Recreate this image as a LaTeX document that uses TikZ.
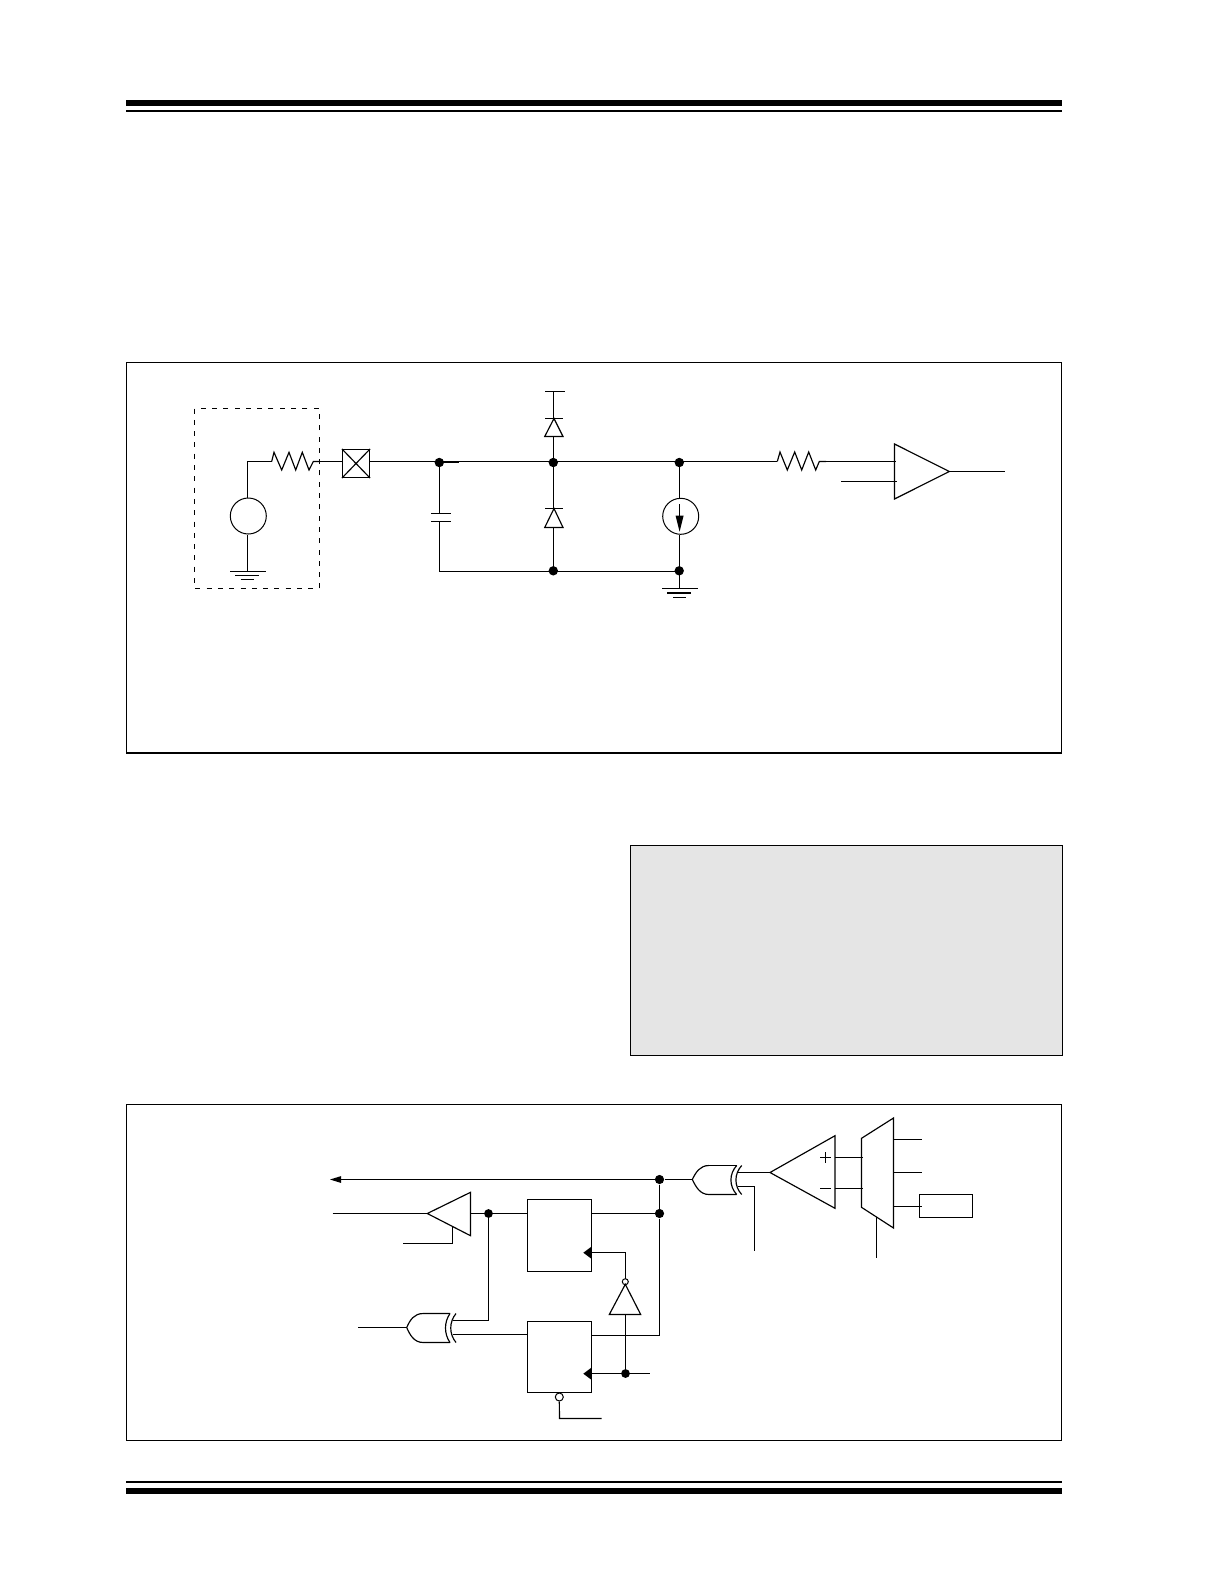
\documentclass[tikz,border=0pt]{standalone}
\usetikzlibrary{calc}
\tikzset{
  x=0.5pt,y=-0.5pt,
  wire/.style={line width=0.58pt,line join=miter},
  frameb/.style={line width=0.65pt},
  jun/.style={circle,fill=black,draw=none,inner sep=0pt,minimum size=4.7pt},
  bub/.style={circle,fill=white,draw=black,line width=0.5pt,inner sep=0pt},
  thin/.style={line width=0.5pt},
  wedge/.style={fill=black,draw=none},
  bar/.style={fill=black,draw=none},
}
\begin{document}
\begin{tikzpicture}
\useasboundingbox (0,0) rectangle (1225,1585);
% page bands
\fill[bar] (126,100) rectangle (1062,106);
\fill[bar] (126,110) rectangle (1062,112);
\fill[bar] (126,1481) rectangle (1062,1483);
\fill[bar] (126,1488) rectangle (1062,1494);
% frames
\draw[frameb] (126.5,362.5) rectangle (1061.5,752.5);
\fill[bar] (126,752) rectangle (1062,754);
\draw[frameb] (126.5,1104.5) rectangle (1061.5,1440.5);
\draw[frameb,fill=black!10] (630.5,845.5) rectangle (1062.5,1055.5);

%% ---------- upper circuit ----------
\draw[wire,dash pattern=on 2.5pt off 3.15pt] (194.5,408.5) rectangle (319.5,588.5);
\coordinate (w0) at (247.5,461.5);
\coordinate (r1a) at (271.7,461.5);
\coordinate (r1b) at (319.5,461.5);
\coordinate (padl) at (342.5,461.5);
\coordinate (padr) at (369.5,461.5);
\node[jun] (j1) at (439.3,462.5) {};
\node[jun] (j2) at (553.3,462.5) {};
\node[jun] (j3) at (679.3,462.5) {};
\node[jun] (j4) at (553.3,570.8) {};
\node[jun] (j5) at (679.2,570.8) {};
\coordinate (w1) at (439.5,461.5);
\coordinate (w2) at (553.5,461.5);
\coordinate (w3) at (679.5,461.5);
\coordinate (w4) at (553.5,571.5);
\coordinate (w5) at (679.5,571.5);
\coordinate (w6) at (439.5,571.5);
\coordinate (r2a) at (777.3,461.5);
\coordinate (r2b) at (826,461.5);
% source
\node[circle,draw,thin,inner sep=0pt,minimum size=18pt] (src) at (248.3,516) {};
\coordinate (g1) at (247.5,571.5);
\draw[wire] (r1a) -- (w0) -- (w0 |- src.north);
\draw[wire] (w0 |- src.south) -- (g1);
\draw[wire] (230.3,571.5) -- (266,571.5) (235,575.5) -- (259,575.5) (240.7,579.5) -- (254,579.5);
% resistor 1
\draw[wire] (r1a) -- (274,452.3) -- (281.7,470) -- (289,452.3) -- (295.7,470) -- (302.3,452.3) -- (309,470) -- (313.3,461.5) -- (r1b);
\draw[wire] (r1b) -- (padl);
% pad
\node[draw,wire,inner sep=0pt,minimum width=13.5pt,minimum height=14pt] (pad) at (356,463.5) {};
\draw[wire] (pad.north west) -- (pad.south east) (pad.south west) -- (pad.north east);
\draw[wire] (padr) -- (w1) -- (w2) -- (w3) -- (r2a);
\draw[line width=0.9pt] (w1) ++(0,0.5) -- (459,462);
% cap
\coordinate (c1) at (439.5,513.5);
\coordinate (c2) at (439.5,521.5);
\draw[wire] (w1) -- (c1) (431,513.5) -- (451,513.5);
\draw[wire] (431,521.5) -- (451,521.5) (c2) -- (w6) -- (w4) -- (w5);
% upper diode
\coordinate (v1) at (553.5,391.5);
\draw[wire] (545.3,391.5) -- (565,391.5);
\draw[wire] (v1) -- (553.5,418.5);
\draw[wire] (545,418.5) -- (563,418.5);
\draw[wire] (554,418.5) -- (563,436.5) -- (544.7,436.5) -- cycle;
\draw[wire] (553.5,436.5) -- (w2);
% lower diode
\draw[wire] (w2) -- (553.5,508.5);
\draw[wire] (545,508.5) -- (563,508.5);
\draw[wire] (554,508.5) -- (563,527.5) -- (544.7,527.5) -- cycle;
\draw[wire] (553.5,527.5) -- (w4);
% current source
\node[circle,draw,thin,inner sep=0pt,minimum size=18pt] (isrc) at (680.7,516.3) {};
\draw[wire] (w3) -- (w3 |- isrc.north);
\draw[wire] (w3 |- isrc.south) -- (w5);
\draw[wire] (679.5,504) -- (679.5,518);
\fill (675.6,515.7) -- (683.6,515.7) -- (679.6,531.7) -- cycle;
% ground 2
\coordinate (g2) at (679.5,588.5);
\draw[wire] (w5) -- (g2);
\draw[wire] (662.3,588.5) -- (698,588.5);
\draw[line width=1.1pt] (667,593) -- (691,593);
\draw[wire] (673,597.5) -- (685.7,597.5);
% resistor 2
\draw[wire] (r2a) -- (780,452) -- (787.3,470) -- (794.7,452) -- (801.7,470) -- (808.7,452) -- (815.7,470) -- (819.3,461.5) -- (r2b);
\coordinate (a1) at (896,461.5);
\coordinate (a2) at (896.7,481.5);
\coordinate (a2s) at (841,481.5);
\coordinate (ao) at (949.3,471.5);
\coordinate (aoe) at (1005,471.5);
\draw[wire] (r2b) -- (a1);
\draw[wire] (a2s) -- (a2);
\draw[wire] (894.5,444) -- (ao) -- (894.5,499) -- cycle;
\draw[wire] (ao) -- (aoe);

%% ---------- lower circuit ----------
\node[jun,minimum size=4.6pt] (k1) at (659.5,1179.5) {};
\node[jun,minimum size=4.6pt] (k2) at (659.5,1213.5) {};
\node[jun,minimum size=4.4pt] (k3) at (488.5,1213.5) {};
\node[jun,minimum size=4.4pt] (k4) at (625.5,1373.5) {};
\node[draw,wire,inner sep=0pt,minimum width=32pt,minimum height=36pt] (ff1) at (559.5,1235.5) {};
\node[draw,wire,inner sep=0pt,minimum width=32pt,minimum height=35.5pt] (ff2) at (559.5,1356.75) {};
% output arrow
\draw[wire] (692.3,1179.5) -- (k1) -- (338,1179.5);
\fill (330,1179.5) -- (341,1176.1) -- (341,1182.9) -- cycle;
% ff1 out, vertical
\draw[wire] (ff1.east |- k2) -- (k2);
\draw[wire] (k1) -- (k2) -- (659.5,1335.5) -- (ff2.east |- 0,1335.5);
% buffer
\draw[wire] (427.3,1213.5) -- (470.5,1192.3) -- (470.5,1235.7) -- cycle;
\draw[wire] (332.7,1213.5) -- (427.3,1213.5);
\draw[wire] (452.5,1226.7) -- (452.5,1243.5) -- (403,1243.5);
\draw[wire] (470.5,1213.5) -- (k3) -- (ff1.west |- k3);
\draw[wire] (k3) -- (488.5,1320.5) -- (452.7,1320.5);
% clock wedges
\fill[wedge] (583.3,1252.7) -- (591.7,1246.4) -- (591.7,1259) -- cycle;
\fill[wedge] (583.3,1373.7) -- (591.7,1367.4) -- (591.7,1380) -- cycle;
% inverter
\node[bub,minimum size=3pt] (ib) at (625.3,1281.7) {};
\draw[wire] (625.3,1284.3) -- (640.7,1314.5) -- (609.3,1314.5) -- cycle;
\draw[wire] (591.7,1252.5) -- (625.5,1252.5) -- (625.5,1278.7);
\draw[wire] (625.5,1314.5) -- (625.5,1373.5);
\draw[wire] (591.7,1373.5) -- (650,1373.5);
% ff2 reset
\node[bub,minimum size=4pt] (rb) at (559.3,1397) {};
\draw[wire] (rb.south) -- (559.5,1418.5) -- (601.7,1418.5);
% xor 1
\draw[wire] (358,1327.5) -- (406.7,1327.5);
\draw[wire] (450,1313.5) -- (423.3,1313.5) .. controls (414,1313.5) and (410,1320) .. (406.7,1327.5)
  .. controls (410,1335) and (414,1342.5) .. (423.3,1342.5) -- (450,1342.5);
\draw[wire] (450,1313.5) .. controls (444,1322) and (444,1334) .. (450,1342.5);
\draw[wire] (456,1313.5) .. controls (449,1322) and (449,1334) .. (456,1342.5);
\draw[wire] (ff2.west |- 0,1334.5) -- (452.7,1334.5);
% xor 2
\draw[wire] (709,1165.5) .. controls (700,1165.5) and (696,1172) .. (692.3,1179.5)
  .. controls (696,1187) and (700,1194.5) .. (709,1194.5) -- (736.7,1194.5);
\draw[wire] (709,1165.5) -- (736.7,1165.5);
\draw[wire] (736.7,1165.5) .. controls (729,1174) and (729,1186) .. (736.7,1194.5);
\draw[wire] (741.7,1165.5) .. controls (734,1174) and (734,1186) .. (741.7,1194.5);
\coordinate (ct) at (770,1172.5);
\draw[wire] (737.7,1172.5) -- (ct);
\draw[wire] (737.7,1186.5) -- (754.5,1186.5) -- (754.5,1250.7);
% comparator
\draw[wire] (ct) -- (835,1135.7) -- (835,1208.3) -- cycle;
\draw[wire] (820,1157.5) -- (830.6,1157.5) (825.5,1152.4) -- (825.5,1163);
\draw[wire] (820,1188.5) -- (831,1188.5);
\draw[wire] (835,1157.5) -- (862.7,1157.5) (835,1188.5) -- (862.7,1188.5);
% mux
\draw[wire] (861.5,1138.3) -- (893.5,1118) -- (893.5,1228) -- (861.5,1207.3) -- cycle;
\draw[wire] (893.5,1139.5) -- (921.7,1139.5) (893.5,1172.5) -- (921.7,1172.5);
\node[draw,wire,inner sep=0pt,minimum width=26.5pt,minimum height=11.5pt] (reg) at (946,1205.75) {};
\draw[wire] (893.5,1206.5) -- (921.7,1206.5);
\draw[wire] (876.5,1216.9) -- (876.5,1257.7);
\end{tikzpicture}
\end{document}
